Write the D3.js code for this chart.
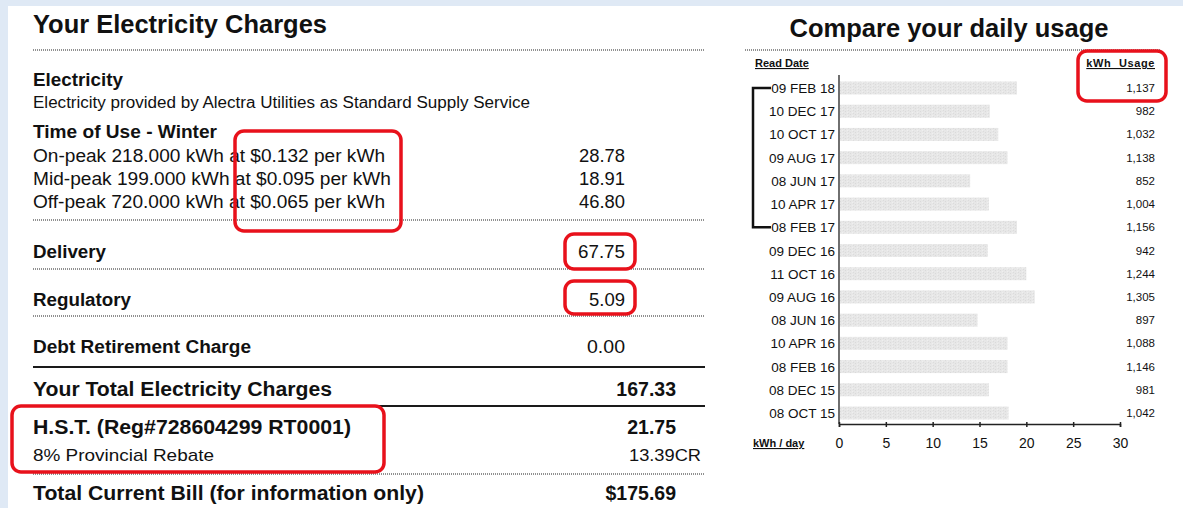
<!DOCTYPE html>
<html>
<head>
<meta charset="utf-8">
<script src="https://cdn.jsdelivr.net/npm/d3@7"></script>
<style>
  html, body { margin: 0; padding: 0; background: #dfe9f5; }
  svg { display: block; font-family: "Liberation Sans", Arial, sans-serif; }
</style>
</head>
<body>
<svg id="chart" width="1183" height="508"></svg>
<script>
// ---- Bill (left panel) ----
const billTitle = "Your Electricity Charges";
const electricityHead = "Electricity";
const electricitySub = "Electricity provided by Alectra Utilities as Standard Supply Service";
const touHead = "Time of Use - Winter";
const touLabels = [
  "On-peak 218.000 kWh at $0.132 per kWh",
  "Mid-peak 199.000 kWh at $0.095 per kWh",
  "Off-peak 720.000 kWh at $0.065 per kWh"
];
const touAmounts = ["28.78", "18.91", "46.80"];
const chargeLabels = ["Delivery", "Regulatory", "Debt Retirement Charge"];
const chargeAmounts = ["67.75", "5.09", "0.00"];
const totalLabel = "Your Total Electricity Charges";
const totalAmount = "167.33";
const hstLabel = "H.S.T. (Reg#728604299 RT0001)";
const hstAmount = "21.75";
const rebateLabel = "8% Provincial Rebate";
const rebateAmount = "13.39CR";
const billLabel = "Total Current Bill (for information only)";
const billAmount = "$175.69";

// ---- Daily usage chart (right panel) ----
const chartTitle = "Compare your daily usage";
const readDates = ["09 FEB 18", "10 DEC 17", "10 OCT 17", "09 AUG 17", "08 JUN 17", "10 APR 17",
  "08 FEB 17", "09 DEC 16", "11 OCT 16", "09 AUG 16", "08 JUN 16", "10 APR 16",
  "08 FEB 16", "08 DEC 15", "08 OCT 15"];
const dailyKwh = [19.0, 16.1, 17.0, 18.0, 14.0, 16.0, 19.0, 15.9, 20.0, 20.9, 14.8, 18.0, 18.0, 16.0, 18.1];
const usageKwh = ["1,137", "982", "1,032", "1,138", "852", "1,004", "1,156", "942", "1,244",
  "1,305", "897", "1,088", "1,146", "981", "1,042"];
const xTicks = [0, 5, 10, 15, 20, 25, 30];

const svg = d3.select("#chart");
const RED = "#e8111b";

// bar texture
const defs = svg.append("defs");
const pat = defs.append("pattern").attr("id", "speck").attr("patternUnits", "userSpaceOnUse")
  .attr("width", 5).attr("height", 3);
pat.append("rect").attr("width", 5).attr("height", 3).attr("fill", "#e7e7e7");
pat.append("rect").attr("x", 0).attr("y", 0).attr("width", 1).attr("height", 1).attr("fill", "#dadada");
pat.append("rect").attr("x", 3).attr("y", 2).attr("width", 1).attr("height", 1).attr("fill", "#dcdcdc");
pat.append("rect").attr("x", 2).attr("y", 1).attr("width", 1).attr("height", 1).attr("fill", "#efefef");

// paper
svg.append("rect").attr("x", 8).attr("y", 6).attr("width", 1175).attr("height", 502).attr("fill", "#ffffff");

function txt(g, x, y, s, size, weight, anchor, width) {
  const t = g.append("text").attr("x", x).attr("y", y).text(s)
    .attr("font-size", size).attr("font-weight", weight || "normal")
    .attr("text-anchor", anchor || "start").attr("fill", "#111");
  if (width) t.attr("textLength", width).attr("lengthAdjust", "spacingAndGlyphs");
  return t;
}
function dotted(g, x1, x2, y) {
  g.append("line").attr("x1", x1).attr("x2", x2).attr("y1", y).attr("y2", y)
    .attr("stroke", "#222").attr("stroke-width", 1.1).attr("stroke-dasharray", "1,1");
}
function solid(g, x1, x2, y) {
  g.append("line").attr("x1", x1).attr("x2", x2).attr("y1", y).attr("y2", y)
    .attr("stroke", "#1a1a1a").attr("stroke-width", 2);
}
function redBox(g, x, y, w, h) {
  g.append("rect").attr("x", x).attr("y", y).attr("width", w).attr("height", h)
    .attr("rx", 9).attr("fill", "none").attr("stroke", RED).attr("stroke-width", 3.5);
}

// ---------- Left panel ----------
const L = svg.append("g");
txt(L, 33, 33, billTitle, 25, "bold", "start", 294);
dotted(L, 33, 705, 50);
txt(L, 33, 86, electricityHead, 18.5, "bold", "start", 90);
txt(L, 33, 108, electricitySub, 16, "normal", "start", 497);
txt(L, 33, 138, touHead, 17.5, "bold", "start", 184);
const touWidths = [352, 358, 352];
const touY = d3.scalePoint().domain(touLabels).range([162, 208]);
touLabels.forEach((s, i) => {
  txt(L, 33, touY(s), s, 17.5, "normal", "start", touWidths[i]);
  txt(L, 625, touY(s), touAmounts[i], 17.5, "normal", "end", 46);
});
dotted(L, 33, 705, 220);
const chargeWidths = [73, 98, 218];
const chargeAmtWidths = [47, 36, 38];
const chargeY = d3.scalePoint().domain(chargeLabels).range([258, 353]);
chargeLabels.forEach((s, i) => {
  txt(L, 33, chargeY(s), s, 18, "bold", "start", chargeWidths[i]);
  txt(L, 625, chargeY(s), chargeAmounts[i], 18, "normal", "end", chargeAmtWidths[i]);
});
dotted(L, 33, 705, 269);
dotted(L, 33, 705, 316);
solid(L, 33, 705, 367);
txt(L, 33, 396, totalLabel, 19.5, "bold", "start", 299);
txt(L, 676, 396, totalAmount, 19.5, "bold", "end");
solid(L, 33, 705, 406);
txt(L, 33, 434, hstLabel, 19.5, "bold", "start", 318);
txt(L, 676, 434, hstAmount, 19.5, "bold", "end");
txt(L, 33, 461, rebateLabel, 17, "normal", "start", 181);
txt(L, 701, 461, rebateAmount, 17, "normal", "end", 72);
dotted(L, 33, 705, 474);
txt(L, 33, 500, billLabel, 19.5, "bold", "start", 391);
txt(L, 676, 500, billAmount, 19.5, "bold", "end");

redBox(L, 235, 131, 166, 100);
redBox(L, 565, 234, 70, 35);
redBox(L, 565, 281, 70, 33);
redBox(L, 12, 406, 372, 66);

// ---------- Right panel ----------
const R = svg.append("g");
txt(R, 949, 37, chartTitle, 25.5, "bold", "middle");
dotted(R, 745, 1160, 50);

const x = d3.scaleLinear().domain([0, 30]).range([839, 1120]);
const y = d3.scalePoint().domain(readDates).range([88, 413]);
const barH = 13;

R.append("text").attr("x", 755).attr("y", 67).text("Read Date")
  .attr("font-size", 11).attr("font-weight", "bold").attr("text-decoration", "underline").attr("fill", "#111");
R.append("text").attr("x", 1155).attr("y", 67).text("kWh Usage")
  .attr("font-size", 11).attr("font-weight", "bold").attr("text-anchor", "end")
  .attr("word-spacing", 4).attr("letter-spacing", 0.6)
  .attr("text-decoration", "underline").attr("fill", "#111");

// bars
R.selectAll("rect.bar").data(readDates).join("rect").attr("class", "bar")
  .attr("x", x(0) + 1).attr("y", d => y(d) - barH / 2)
  .attr("width", (d, i) => x(dailyKwh[i]) - x(0) - 1).attr("height", barH)
  .attr("fill", "url(#speck)");

// date labels
R.selectAll("text.date").data(readDates).join("text").attr("class", "date")
  .attr("x", 835).attr("y", d => y(d) + 5).text(d => d)
  .attr("text-anchor", "end").attr("font-size", 13.5).attr("fill", "#111");

// usage values
R.selectAll("text.usage").data(readDates).join("text").attr("class", "usage")
  .attr("x", 1155).attr("y", d => y(d) + 4).text((d, i) => usageKwh[i])
  .attr("text-anchor", "end").attr("font-size", 11.5).attr("fill", "#111");

// bracket for the last 12 months
const br = d3.path();
br.moveTo(771, y(readDates[0])); br.lineTo(753, y(readDates[0]));
br.lineTo(753, y(readDates[6])); br.lineTo(771, y(readDates[6]));
R.append("path").attr("d", br.toString()).attr("fill", "none")
  .attr("stroke", "#111").attr("stroke-width", 2.5);

// vertical axis line
R.append("line").attr("x1", x(0)).attr("x2", x(0)).attr("y1", 75).attr("y2", 424)
  .attr("stroke", "#222").attr("stroke-width", 1.3);

// x axis
const axG = R.append("g").attr("transform", "translate(0,424)")
  .call(d3.axisBottom(x).tickValues(xTicks).tickSizeOuter(0).tickSize(3));
axG.select(".domain").attr("stroke", "#222").attr("stroke-width", 1.5);
axG.selectAll(".tick line").attr("y1", -2).attr("y2", 3).attr("stroke", "#222").attr("stroke-width", 1.5);
axG.selectAll(".tick text").attr("y", 24).attr("dy", 0)
  .attr("font-size", 14).attr("font-family", "Liberation Sans, Arial, sans-serif").attr("fill", "#111");

R.append("text").attr("x", 753).attr("y", 447).text("kWh / day")
  .attr("font-size", 11).attr("font-weight", "bold").attr("text-decoration", "underline").attr("fill", "#111");

redBox(R, 1078, 51, 88, 50);
</script>
</body>
</html>
